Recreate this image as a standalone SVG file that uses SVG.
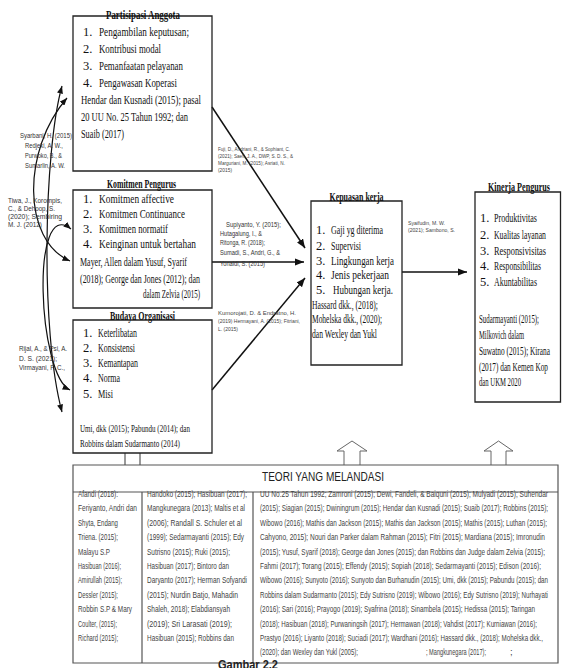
<svg xmlns="http://www.w3.org/2000/svg" width="562" height="668" viewBox="0 0 562 668">
<style>
.bx{fill:none;stroke:#222;stroke-width:1.3}
.ln{fill:none;stroke:#111;stroke-width:1.5}
.cv{fill:none;stroke:#111;stroke-width:1.2}
.t{font-family:"Liberation Serif","Times New Roman",serif;font-size:12.5px;fill:#111}
.tb{font-family:"Liberation Serif","Times New Roman",serif;font-size:12.5px;font-weight:bold;fill:#111}
.tc{font-family:"Liberation Serif","Times New Roman",serif;font-size:11px;fill:#111}
.c{font-family:"Liberation Sans",Arial,sans-serif;font-size:7px;fill:#333}
.cs{font-family:"Liberation Sans",Arial,sans-serif;font-size:6px;fill:#444}
.b{font-family:"Liberation Sans",Arial,sans-serif;font-size:9.5px;fill:#444}
.hd{font-family:"Liberation Sans",Arial,sans-serif;font-size:12px;fill:#222}
.gb{font-family:"Liberation Sans",Arial,sans-serif;font-size:12px;font-weight:bold;fill:#222}
.ba{fill:none;stroke:#666;stroke-width:1}
.gl{stroke:#555;stroke-width:1.2;fill:none}
</style>
<defs>
<marker id="ah" viewBox="0 0 10 8" refX="10" refY="4" markerWidth="9" markerHeight="7.2" markerUnits="userSpaceOnUse" orient="auto"><path d="M0,0 L10,4 L0,8 z" fill="#111"/></marker>
<marker id="ah2" viewBox="0 0 10 8" refX="10" refY="4" markerWidth="7.5" markerHeight="6" markerUnits="userSpaceOnUse" orient="auto-start-reverse"><path d="M0,0 L10,4 L0,8 z" fill="#111"/></marker>
</defs>

<g id="connectors">
<line class="ln" x1="212" y1="107" x2="305" y2="248" marker-end="url(#ah)"/>
<line class="ln" x1="212" y1="262" x2="304" y2="262" marker-end="url(#ah)"/>
<line class="ln" x1="212" y1="390" x2="305" y2="278" marker-end="url(#ah)"/>
<line class="ln" x1="402" y1="272" x2="467" y2="272" marker-end="url(#ah)"/>
<path class="cv" d="M62,86 C44,150 40,330 62,412" marker-start="url(#ah2)" marker-end="url(#ah2)"/>
<path class="cv" d="M67,98 C22,150 22,240 70,261" marker-start="url(#ah2)" marker-end="url(#ah2)"/>
<path class="cv" d="M71,229 C30,195 38,375 70,390" marker-start="url(#ah2)" marker-end="url(#ah2)"/>
<line class="gl" x1="125" y1="453" x2="125" y2="465"/>
<line class="gl" x1="140" y1="453" x2="140" y2="465"/>
<polyline class="ba" points="344,465 344,451 337,451 352,441 367,451 360,451 360,465"/>
<polyline class="ba" points="491,465 491,451 484,451 498.5,441 513,451 506,451 506,465"/>
</g>

<g id="labels">
<text class="c" x="20" y="138" textLength="52" lengthAdjust="spacingAndGlyphs">Syarbani, H. (2015)</text>
<text class="c" x="25" y="148" textLength="38" lengthAdjust="spacingAndGlyphs">Redjeki, A. W.,</text>
<text class="c" x="25" y="158" textLength="37" lengthAdjust="spacingAndGlyphs">Purwoko, B., &amp;</text>
<text class="c" x="25" y="168" textLength="40" lengthAdjust="spacingAndGlyphs">Sumarlin, A. W.</text>
<text class="c" x="8" y="203" textLength="54" lengthAdjust="spacingAndGlyphs">Tiwa, J., Korompis,</text>
<text class="c" x="8" y="211" textLength="47" lengthAdjust="spacingAndGlyphs">C., &amp; Dehoop, S.</text>
<text class="c" x="8" y="219" textLength="54" lengthAdjust="spacingAndGlyphs">(2020); Sembiring</text>
<text class="c" x="8" y="227" textLength="34" lengthAdjust="spacingAndGlyphs">M. J. (2012)</text>
<text class="c" x="19" y="351" textLength="48" lengthAdjust="spacingAndGlyphs">Rijal, A., &amp; Psi, A.</text>
<text class="c" x="19" y="361" textLength="38" lengthAdjust="spacingAndGlyphs">D. S. (2021);</text>
<text class="c" x="19" y="370" textLength="46" lengthAdjust="spacingAndGlyphs">Virmayani, P. C.,</text>
<text class="cs" x="218" y="151" textLength="72" lengthAdjust="spacingAndGlyphs">Fuji, D., Andriani, R., &amp; Sophiant, C.</text>
<text class="cs" x="218" y="158" textLength="75" lengthAdjust="spacingAndGlyphs">(2021); Saefi, J. A., DWP, S. D. S., &amp;</text>
<text class="cs" x="218" y="165" textLength="67" lengthAdjust="spacingAndGlyphs">Marguriani, M. (2015); Asriati, N.</text>
<text class="cs" x="218" y="172" textLength="14" lengthAdjust="spacingAndGlyphs">(2015)</text>
<text class="c" x="226" y="227" textLength="55" lengthAdjust="spacingAndGlyphs">Supiyanto, Y. (2015);</text>
<text class="c" x="220" y="236" textLength="42" lengthAdjust="spacingAndGlyphs">Hutagalung, I., &amp;</text>
<text class="c" x="220" y="245" textLength="45" lengthAdjust="spacingAndGlyphs">Ritonga, R. (2018);</text>
<text class="c" x="220" y="255" textLength="60" lengthAdjust="spacingAndGlyphs">Sumadi, S., Andri, G., &amp;</text>
<text class="c" x="220" y="266" textLength="45" lengthAdjust="spacingAndGlyphs">Yonaldi, S. (2015)</text>
<text class="cs" x="218" y="315" textLength="78" lengthAdjust="spacingAndGlyphs">Kumorojati, D. &amp; Endratno, H.</text>
<text class="cs" x="218" y="323" textLength="82" lengthAdjust="spacingAndGlyphs">(2019) Hermayani, A. (2015);   Fitriani,</text>
<text class="cs" x="218" y="331" textLength="20" lengthAdjust="spacingAndGlyphs">L. (2015)</text>
<text class="cs" x="408" y="225" textLength="37" lengthAdjust="spacingAndGlyphs">Syaifudin, M. W.</text>
<text class="cs" x="408" y="232" textLength="47" lengthAdjust="spacingAndGlyphs">(2021); Sambono, S.</text>
</g>

<g id="partisipasi">
<path class="bx" d="M73,16 H212 V171 H73 Z"/>
<text class="tb" x="143" y="19" text-anchor="middle" textLength="74" lengthAdjust="spacingAndGlyphs">Partisipasi Anggota</text>
<text class="t" x="83" y="36">1.</text><text class="t" x="99" y="36" textLength="90" lengthAdjust="spacingAndGlyphs">Pengambilan  keputusan;</text>
<text class="t" x="83" y="53">2.</text><text class="t" x="99" y="53" textLength="62" lengthAdjust="spacingAndGlyphs">Kontribusi modal</text>
<text class="t" x="83" y="70">3.</text><text class="t" x="99" y="70" textLength="84" lengthAdjust="spacingAndGlyphs">Pemanfaatan pelayanan</text>
<text class="t" x="83" y="87">4.</text><text class="t" x="99" y="87" textLength="78" lengthAdjust="spacingAndGlyphs">Pengawasan Koperasi</text>
<text class="t" x="81" y="104" textLength="120" lengthAdjust="spacingAndGlyphs">Hendar dan Kusnadi (2015); pasal</text>
<text class="t" x="81" y="121" textLength="107" lengthAdjust="spacingAndGlyphs">20 UU No. 25 Tahun 1992; dan</text>
<text class="t" x="81" y="138" textLength="43" lengthAdjust="spacingAndGlyphs">Suaib (2017)</text>
</g>

<g id="komitmen">
<path class="bx" d="M73,190 H212 V308 H73 Z"/>
<text class="tb" x="141.5" y="188" text-anchor="middle" textLength="69" lengthAdjust="spacingAndGlyphs">Komitmen Pengurus</text>
<text class="t" x="83" y="203">1.</text><text class="t" x="99" y="203" textLength="75" lengthAdjust="spacingAndGlyphs">Komitmen affective</text>
<text class="t" x="83" y="218">2.</text><text class="t" x="99" y="218" textLength="86" lengthAdjust="spacingAndGlyphs">Komitmen  Continuance</text>
<text class="t" x="83" y="233">3.</text><text class="t" x="99" y="233" textLength="69" lengthAdjust="spacingAndGlyphs">Komitmen normatif</text>
<text class="t" x="83" y="248">4.</text><text class="t" x="99" y="248" textLength="97" lengthAdjust="spacingAndGlyphs">Keinginan untuk bertahan</text>
<text class="t" x="80" y="266" textLength="107" lengthAdjust="spacingAndGlyphs">Mayer, Allen dalam Yusuf, Syarif</text>
<text class="t" x="80" y="283" textLength="120" lengthAdjust="spacingAndGlyphs">(2018); George dan Jones (2012); dan</text>
<text class="t" x="143" y="298" textLength="57" lengthAdjust="spacingAndGlyphs">dalam Zelvia (2015)</text>
</g>

<g id="budaya">
<path class="bx" d="M73,320 H212 V453 H73 Z"/>
<text class="tb" x="142.5" y="320" text-anchor="middle" textLength="65" lengthAdjust="spacingAndGlyphs">Budaya Organisasi</text>
<text class="t" x="83" y="337">1.</text><text class="t" x="98" y="337" textLength="39" lengthAdjust="spacingAndGlyphs">Keterlibatan</text>
<text class="t" x="83" y="352">2.</text><text class="t" x="98" y="352" textLength="37" lengthAdjust="spacingAndGlyphs">Konsistensi</text>
<text class="t" x="83" y="367">3.</text><text class="t" x="98" y="367" textLength="40" lengthAdjust="spacingAndGlyphs">Kemantapan</text>
<text class="t" x="83" y="382">4.</text><text class="t" x="98" y="382" textLength="22" lengthAdjust="spacingAndGlyphs">Norma</text>
<text class="t" x="83" y="398">5.</text><text class="t" x="98" y="398" textLength="15" lengthAdjust="spacingAndGlyphs">Misi</text>
<text class="tc" x="80" y="432" textLength="110" lengthAdjust="spacingAndGlyphs">Umi, dkk (2015); Pabundu (2014); dan</text>
<text class="tc" x="80" y="447" textLength="100" lengthAdjust="spacingAndGlyphs">Robbins dalam Sudarmanto (2014)</text>
</g>

<g id="kepuasan">
<path class="bx" d="M311,201 H402 V365 H311 Z"/>
<text class="tb" x="356.5" y="201" text-anchor="middle" textLength="54" lengthAdjust="spacingAndGlyphs">Kepuasan kerja</text>
<text class="t" x="316" y="234">1.</text><text class="t" x="331" y="234" textLength="52" lengthAdjust="spacingAndGlyphs">Gaji yg diterima</text>
<text class="t" x="316" y="250">2.</text><text class="t" x="331" y="250" textLength="30" lengthAdjust="spacingAndGlyphs">Supervisi</text>
<text class="t" x="316" y="265">3.</text><text class="t" x="331" y="265" textLength="63" lengthAdjust="spacingAndGlyphs">Lingkungan kerja</text>
<text class="t" x="316" y="279">4.</text><text class="t" x="331" y="279" textLength="58" lengthAdjust="spacingAndGlyphs">Jenis pekerjaan</text>
<text class="t" x="316" y="294">5.</text><text class="t" x="333" y="294" textLength="60" lengthAdjust="spacingAndGlyphs">Hubungan kerja.</text>
<text class="t" x="312" y="309" textLength="66" lengthAdjust="spacingAndGlyphs">Hassard dkk., (2018);</text>
<text class="t" x="312" y="323" textLength="70" lengthAdjust="spacingAndGlyphs">Mohelska dkk., (2020);</text>
<text class="t" x="312" y="338" textLength="65" lengthAdjust="spacingAndGlyphs">dan Wexley dan Yukl</text>
</g>

<g id="kinerja">
<path class="bx" d="M475,192 H560.5 V402 H475 Z"/>
<text class="tb" x="519" y="191" text-anchor="middle" textLength="62" lengthAdjust="spacingAndGlyphs">Kinerja Pengurus</text>
<text class="t" x="480" y="222">1.</text><text class="t" x="494" y="222" textLength="43" lengthAdjust="spacingAndGlyphs">Produktivitas</text>
<text class="t" x="480" y="239">2.</text><text class="t" x="494" y="239" textLength="52" lengthAdjust="spacingAndGlyphs">Kualitas layanan</text>
<text class="t" x="480" y="255">3.</text><text class="t" x="494" y="255" textLength="52" lengthAdjust="spacingAndGlyphs">Responsivisitas</text>
<text class="t" x="480" y="270">4.</text><text class="t" x="494" y="270" textLength="47" lengthAdjust="spacingAndGlyphs">Responsibilitas</text>
<text class="t" x="480" y="286">5.</text><text class="t" x="494" y="286" textLength="43" lengthAdjust="spacingAndGlyphs">Akuntabilitas</text>
<text class="t" x="479" y="323" textLength="60" lengthAdjust="spacingAndGlyphs">Sudarmayanti (2015);</text>
<text class="t" x="479" y="339" textLength="45" lengthAdjust="spacingAndGlyphs">Milkovich dalam</text>
<text class="t" x="479" y="355" textLength="71" lengthAdjust="spacingAndGlyphs">Suwatno (2015); Kirana</text>
<text class="t" x="479" y="371" textLength="69" lengthAdjust="spacingAndGlyphs">(2017) dan Kemen Kop</text>
<text class="t" x="479" y="386" textLength="42" lengthAdjust="spacingAndGlyphs">dan UKM 2020</text>
</g>

<g id="teori">
<path class="gl" d="M73,465 H558 V663 H73 Z"/>
<line class="gl" x1="73" y1="492" x2="558" y2="492"/>
<line class="gl" x1="142" y1="492" x2="142" y2="663"/>
<line class="gl" x1="253" y1="492" x2="253" y2="663"/>
<text class="hd" x="262" y="481" textLength="122" lengthAdjust="spacingAndGlyphs">TEORI YANG MELANDASI</text>

<text class="b" x="78" y="497" textLength="40" lengthAdjust="spacingAndGlyphs">Afandi (2018):</text>
<text class="b" x="78" y="511" textLength="59" lengthAdjust="spacingAndGlyphs">Feriyanto, Andri dan</text>
<text class="b" x="78" y="526" textLength="40" lengthAdjust="spacingAndGlyphs">Shyta, Endang</text>
<text class="b" x="78" y="540" textLength="40" lengthAdjust="spacingAndGlyphs">Triena. (2015);</text>
<text class="b" x="78" y="555" textLength="32" lengthAdjust="spacingAndGlyphs">Malayu S.P</text>
<text class="b" x="78" y="569" textLength="43" lengthAdjust="spacingAndGlyphs">Hasibuan (2016);</text>
<text class="b" x="78" y="583" textLength="44" lengthAdjust="spacingAndGlyphs">Amirullah (2015);</text>
<text class="b" x="78" y="598" textLength="40" lengthAdjust="spacingAndGlyphs">Dessler (2015);</text>
<text class="b" x="78" y="612" textLength="54" lengthAdjust="spacingAndGlyphs">Robbin S.P &amp; Mary</text>
<text class="b" x="78" y="627" textLength="39" lengthAdjust="spacingAndGlyphs">Coulter, (2015);</text>
<text class="b" x="78" y="641" textLength="40" lengthAdjust="spacingAndGlyphs">Richard (2015);</text>

<text class="b" x="147" y="497" textLength="100" lengthAdjust="spacingAndGlyphs">Handoko (2015); Hasibuan (2017);</text>
<text class="b" x="147" y="511" textLength="98" lengthAdjust="spacingAndGlyphs">Mangkunegara (2013); Maltis et al</text>
<text class="b" x="147" y="526" textLength="95" lengthAdjust="spacingAndGlyphs">(2006); Randall S. Schuler et al</text>
<text class="b" x="147" y="540" textLength="97" lengthAdjust="spacingAndGlyphs">(1999); Sedarmayanti (2015); Edy</text>
<text class="b" x="147" y="555" textLength="83" lengthAdjust="spacingAndGlyphs">Sutrisno (2015); Ruki (2015);</text>
<text class="b" x="147" y="569" textLength="82" lengthAdjust="spacingAndGlyphs">Hasibuan (2017); Bintoro dan</text>
<text class="b" x="147" y="583" textLength="100" lengthAdjust="spacingAndGlyphs">Daryanto (2017); Herman Sofyandi</text>
<text class="b" x="147" y="598" textLength="91" lengthAdjust="spacingAndGlyphs">(2015); Nurdin Batjo, Mahadin</text>
<text class="b" x="147" y="612" textLength="83" lengthAdjust="spacingAndGlyphs">Shaleh, 2018); Elabdiansyah</text>
<text class="b" x="147" y="627" textLength="85" lengthAdjust="spacingAndGlyphs">(2019); Sri Larasati (2019);</text>
<text class="b" x="147" y="641" textLength="87" lengthAdjust="spacingAndGlyphs">Hasibuan (2015); Robbins dan</text>

<text class="b" x="260" y="497" textLength="288" lengthAdjust="spacingAndGlyphs">UU No.25 Tahun 1992; Zamroni (2015); Dewi, Fandeli, &amp; Baiquni (2015); Mulyadi (2015); Suhendar</text>
<text class="b" x="260" y="511" textLength="288" lengthAdjust="spacingAndGlyphs">(2015); Siagian (2015); Dwiningrum (2015); Hendar dan Kusnadi (2015); Suaib (2017); Robbins (2015);</text>
<text class="b" x="260" y="526" textLength="287" lengthAdjust="spacingAndGlyphs">Wibowo (2016); Mathis dan Jackson (2015); Mathis dan Jackson (2015); Mathis (2015); Luthan (2015);</text>
<text class="b" x="260" y="540" textLength="285" lengthAdjust="spacingAndGlyphs">Cahyono, 2015); Nouri dan Parker dalam Rahman (2015); Fitri (2015); Mardiana (2015); Imronudin</text>
<text class="b" x="260" y="555" textLength="285" lengthAdjust="spacingAndGlyphs">(2015); Yusuf, Syarif (2018); George dan Jones (2015); dan Robbins dan Judge dalam Zelvia (2015);</text>
<text class="b" x="260" y="569" textLength="281" lengthAdjust="spacingAndGlyphs">Fahmi (2017); Torang (2015); Effendy (2015); Sopiah (2018); Sedarmayanti (2015); Edison (2016);</text>
<text class="b" x="260" y="583" textLength="288" lengthAdjust="spacingAndGlyphs">Wibowo (2016); Sunyoto (2016); Sunyoto dan Burhanudin (2015); Umi, dkk (2015); Pabundu (2015); dan</text>
<text class="b" x="260" y="598" textLength="288" lengthAdjust="spacingAndGlyphs">Robbins dalam Sudarmanto (2015); Edy Sutrisno (2019); Wibowo (2016); Edy Sutrisno (2019); Nurhayati</text>
<text class="b" x="260" y="612" textLength="275" lengthAdjust="spacingAndGlyphs">(2016); Sari (2016); Prayogo (2019);  Syafrina (2018); Sinambela (2015); Hedissa (2015); Taringan</text>
<text class="b" x="260" y="627" textLength="277" lengthAdjust="spacingAndGlyphs">(2018); Hasibuan (2018); Purwaningsih (2017); Hermawan (2018); Vahdist (2017); Kurniawan (2016);</text>
<text class="b" x="260" y="641" textLength="283" lengthAdjust="spacingAndGlyphs">Prastyo (2016); Liyanto (2018); Suciadi (2017); Wardhani (2016); Hassard dkk., (2018); Mohelska dkk.,</text>
<text class="b" x="260" y="655" textLength="98" lengthAdjust="spacingAndGlyphs">(2020);  dan Wexley dan Yukl (2005);</text>
<text class="b" x="426" y="655" textLength="60" lengthAdjust="spacingAndGlyphs">; Mangkunegara (2017);</text>
<text class="b" x="510" y="655">;</text>
<text class="gb" x="218" y="669" textLength="60" lengthAdjust="spacingAndGlyphs">Gambar 2.2</text>
</g>
</svg>
